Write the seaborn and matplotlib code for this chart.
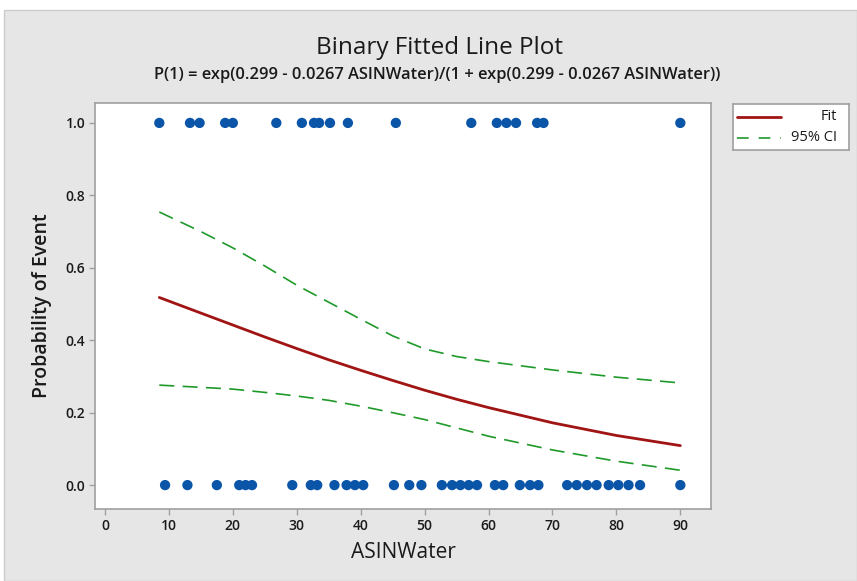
import matplotlib
matplotlib.use("Agg")
import matplotlib.pyplot as plt
from matplotlib.patches import Rectangle
import numpy as np
import pandas as pd
import seaborn as sns

# Observed responses: ASINWater values for events (1) and non-events (0)
x_event = [8.5, 13.3, 14.8, 18.8, 20.0, 26.8, 30.8, 32.7, 33.5, 35.2, 38.0,
           45.5, 57.3, 61.3, 62.8, 64.3, 67.6, 68.6, 90.0]
x_nonevent = [9.4, 12.9, 17.5, 21.0, 22.0, 23.0, 29.3, 32.2, 33.2, 35.9, 37.8,
              39.1, 40.4, 45.2, 47.6, 49.5, 52.7, 54.3, 55.6, 56.9, 58.2, 61.0,
              62.3, 64.9, 66.5, 67.8, 72.3, 73.8, 75.4, 76.9, 78.8, 80.3, 81.9,
              83.7, 90.0]

# Fitted probability and 95% confidence band
fit_x = [8.5, 15, 20, 25, 30, 35, 40, 45, 50, 55, 60, 70, 80, 90]
fit_p = [0.518, 0.475, 0.442, 0.409, 0.377, 0.346, 0.317, 0.289, 0.262,
         0.237, 0.214, 0.172, 0.137, 0.109]
ci_upper = [0.754, 0.700, 0.655, 0.605, 0.552, 0.505, 0.458, 0.412, 0.376,
            0.355, 0.341, 0.318, 0.298, 0.282]
ci_lower = [0.276, 0.270, 0.265, 0.256, 0.246, 0.234, 0.218, 0.200, 0.181,
            0.158, 0.135, 0.097, 0.066, 0.041]

x_ticks = [0, 10, 20, 30, 40, 50, 60, 70, 80, 90]
y_ticks = [0.0, 0.2, 0.4, 0.6, 0.8, 1.0]

title = "Binary Fitted Line Plot"
subtitle = "P(1) = exp(0.299 - 0.0267 ASINWater)/(1 + exp(0.299 - 0.0267 ASINWater))"

BLUE = "#0a55a8"
RED = "#a11414"
GREEN = "#1f9a2a"
PANEL = "#e6e6e6"
FRAME = "#a0a0a0"
TEXT = "#1a1a1a"

sns.set_theme(style="white")
plt.rcParams["font.family"] = ["Open Sans", "DejaVu Sans"]

W, H = 857, 581
fig = plt.figure(figsize=(W / 100, H / 100), dpi=100, facecolor="white")

def fx(px):
    return px / W

def fy(py):
    return 1 - py / H

# grey panel behind the chart
fig.patches.append(Rectangle((fx(4), 0), 1 - fx(4), fy(10), transform=fig.transFigure,
                             facecolor=PANEL, edgecolor="#cccccc", linewidth=1.0, zorder=-10))

ax = fig.add_axes([fx(95), fy(509), fx(711) - fx(95), fy(103) - fy(509)])
ax.set_facecolor("white")

points = pd.DataFrame({
    "ASINWater": x_event + x_nonevent,
    "Event": [1.0] * len(x_event) + [0.0] * len(x_nonevent),
})
fit = pd.DataFrame({"ASINWater": fit_x, "Fit": fit_p, "Upper": ci_upper, "Lower": ci_lower})

sns.lineplot(data=fit, x="ASINWater", y="Fit", ax=ax, color=RED, linewidth=2.0,
             estimator=None, sort=True, zorder=3)
for col in ("Upper", "Lower"):
    sns.lineplot(data=fit, x="ASINWater", y=col, ax=ax, color=GREEN, linewidth=1.2,
                 estimator=None, zorder=3)
    ax.lines[-1].set_dashes([9, 5])
sns.scatterplot(data=points, x="ASINWater", y="Event", ax=ax, color=BLUE, s=55,
                edgecolor="none", linewidth=0, zorder=4)

ax.set_xlim(-1.56, 94.8)
ax.set_ylim(-0.066, 1.055)
ax.set_xticks(x_ticks)
ax.set_yticks(y_ticks)
ax.set_yticklabels([f"{v:.1f}" for v in y_ticks])
ax.tick_params(axis="both", direction="out", length=4, width=1, color=FRAME,
               labelsize=10, labelcolor=TEXT, pad=3, bottom=True, left=True)
for lab in ax.get_xticklabels() + ax.get_yticklabels():
    lab.set_fontweight("semibold")
for sp in ax.spines.values():
    sp.set_color(FRAME)
    sp.set_linewidth(1.2)

ax.set_xlabel("ASINWater", fontsize=15, color=TEXT, labelpad=7)
ax.set_ylabel("Probability of Event", fontsize=14, color=TEXT, fontweight="semibold", labelpad=10)

fig.text(fx(439), fy(48), title, ha="center", va="center", fontsize=17.5, color=TEXT)
fig.text(fx(437), fy(75), subtitle, ha="center", va="center", fontsize=11.9,
         color=TEXT, fontweight="semibold")

# legend box
lg = fig.add_axes([fx(733), fy(150), fx(849) - fx(733), fy(104) - fy(150)])
lg.set_facecolor("white")
lg.set_xlim(0, 1)
lg.set_ylim(0, 1)
lg.set_xticks([])
lg.set_yticks([])
for sp in lg.spines.values():
    sp.set_color(FRAME)
    sp.set_linewidth(1.2)
lg.plot([0.035, 0.415], [0.72, 0.72], color=RED, linewidth=2.0)
lg.plot([0.035, 0.415], [0.27, 0.27], color=GREEN, linewidth=1.2, dashes=[7, 6])
lg.text(0.90, 0.72, "Fit", ha="right", va="center", fontsize=10.5, color=TEXT)
lg.text(0.90, 0.27, "95% CI", ha="right", va="center", fontsize=10.5, color=TEXT)

fig.savefig("out.png", dpi=100, facecolor="white")
